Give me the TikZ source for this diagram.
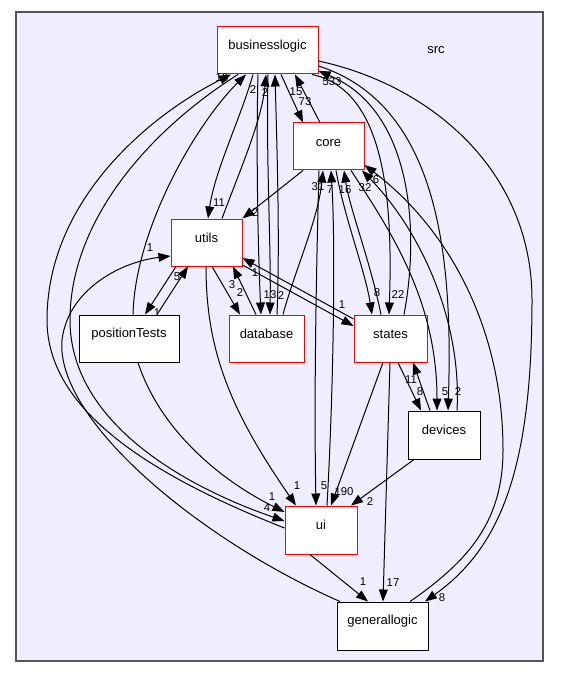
\documentclass[tikz,border=0pt]{standalone}
\usepackage{fontspec}
\setmainfont{Liberation Sans}
\usetikzlibrary{arrows.meta,calc,fit}
\definecolor{clbg}{HTML}{EEEEFF}
\definecolor{clframe}{HTML}{555555}
\begin{document}
\begin{tikzpicture}[x=0.75pt,y=-0.75pt,
  dep/.style={draw=black, line width=0.75pt, -{Triangle[length=9pt,width=6.6pt]}},
  redbox/.style={draw=red, fill=white, line width=0.75pt, inner sep=0pt, font=\fontsize{9.75}{11}\selectfont},
  blkbox/.style={draw=black, fill=white, line width=0.75pt, inner sep=0pt, font=\fontsize{9.75}{11}\selectfont},
  lbl/.style={font=\fontsize{8.5}{10}\selectfont, inner sep=0pt}]
\useasboundingbox (0,0) rectangle (560,677);
\fill[white] (0,0) rectangle (560,677);
\draw[clframe, fill=clbg, line width=1pt] (16,12) rectangle (543,661);
\node[font=\fontsize{9.75}{11}\selectfont, inner sep=0pt] (src) at (436,50) {src};
% nodes
\node[redbox, fit={(217,27) (318,74)}] (bl) {businesslogic};
\node[redbox, fit={(293,123) (364,170)}] (core) {core};
\node[redbox, fit={(171,219) (242,266)}] (utils) {utils};
\node[blkbox, fit={(79,315) (179,362)}] (pt) {positionTests};
\node[redbox, fit={(229,315) (304,362)}] (db) {database};
\node[redbox, fit={(354,315) (427,362)}] (st) {states};
\node[blkbox, fit={(408,411) (480,459)}] (dev) {devices};
\node[redbox, fit={(285,506) (357,554)}] (ui) {ui};
\node[blkbox, fit={(337,602) (428,650)}] (gl) {generallogic};
% edges
\draw[dep] (281,0 |- bl.south) -- (303,0 |- core.north);
\draw[dep] (320,0 |- core.north) -- (295,0 |- bl.south);
\draw[dep] (ui.west |- 0,528) .. controls (150,475) and (47,410) .. (47,320) .. controls (47,200) and (150,115) .. (231,0 |- bl.south);
\draw[dep] (238,0 |- bl.south) .. controls (150,130) and (70,220) .. (70,320) .. controls (70,420) and (180,485) .. (ui.west |- 0,521);
\draw[dep] (133,0 |- pt.north) .. controls (135,230) and (195,125) .. (246,0 |- bl.south);
\draw[dep] (253,0 |- bl.south) .. controls (240,120) and (215,170) .. (208,0 |- utils.north);
\draw[dep] (222,0 |- utils.north) .. controls (240,170) and (262,120) .. (266,0 |- bl.south);
\draw[dep] (258,0 |- bl.south) .. controls (256,150) and (258,250) .. (261,0 |- db.north);
\draw[dep] (277,0 |- db.north) .. controls (280,240) and (277,150) .. (275,0 |- bl.south);
\draw[dep] (268,0 |- bl.south) .. controls (266,160) and (271,240) .. (270,0 |- db.north);
\draw[dep] (312,0 |- bl.south) .. controls (385,90) and (393,200) .. (389,0 |- st.north);
\draw[dep] (404,0 |- st.north) .. controls (420,230) and (412,110) .. (bl.east |- 0,71);
\draw[dep] (bl.east |- 0,66) .. controls (440,105) and (453,260) .. (448,0 |- dev.north);
\draw[dep] (bl.east |- 0,61) .. controls (430,85) and (532,170) .. (532,300) .. controls (532,470) and (500,548) .. (425,0 |- gl.north);
\draw[dep] (303,0 |- core.south) -- (utils.north east);
\draw[dep] (283,0 |- db.north) .. controls (295,270) and (318,220) .. (323,0 |- core.south);
\draw[dep] (327,0 |- ui.north) .. controls (333,400) and (336,250) .. (331,0 |- core.south);
\draw[dep] (319,0 |- core.south) .. controls (316,280) and (314,400) .. (316,0 |- ui.north);
\draw[dep] (381,0 |- st.north) .. controls (370,260) and (350,210) .. (344,0 |- core.south);
\draw[dep] (336,0 |- core.south) .. controls (345,220) and (365,270) .. (372,0 |- st.north);
\draw[dep] (351,0 |- core.south) .. controls (390,230) and (437,300) .. (437,0 |- dev.north);
\draw[dep] (457,0 |- dev.north) .. controls (462,320) and (420,230) .. (362,0 |- core.south);
\draw[dep] (410,0 |- gl.north) .. controls (470,560) and (503,520) .. (503,450) .. controls (503,330) and (450,230) .. (core.east |- 0,165);
\draw[dep] (340,0 |- gl.north) .. controls (200,540) and (55,420) .. (62,340) .. controls (68,290) and (120,262) .. (utils.west |- 0,256);
\draw[dep] (157,0 |- pt.north) -- (188,0 |- utils.south);
\draw[dep] (176,0 |- utils.south) -- (145,0 |- pt.north);
\draw[dep] (st.west |- 0,319) -- (utils.east |- 0,258);
\draw[dep] (utils.east |- 0,265) -- (st.west |- 0,326);
\draw[dep] (256,0 |- db.north) -- (233,0 |- utils.south);
\draw[dep] (212,0 |- utils.south) -- (240,0 |- db.north);
\draw[dep] (206,0 |- utils.south) .. controls (206,350) and (230,410) .. (296,0 |- ui.north);
\draw[dep] (138,0 |- pt.south) .. controls (160,430) and (220,480) .. (ui.west |- 0,512);
\draw[dep] (383,0 |- st.south) -- (331,0 |- ui.north);
\draw[dep] (414,0 |- dev.south) -- (351,0 |- ui.north);
\draw[dep] (398,0 |- st.south) -- (421,0 |- dev.north);
\draw[dep] (430,0 |- dev.north) -- (413,0 |- st.south);
\draw[dep] (310,0 |- ui.south) -- (368,0 |- gl.north);
\draw[dep] (390,0 |- st.south) -- (383,0 |- gl.north);
% labels
\node[lbl] (l01) at (305,102) {73};
\node[lbl] (l02) at (296,92) {15};
\node[lbl] (l03) at (222,78) {10};
\node[lbl] (l04) at (267,508) {4};
\node[lbl] (l05) at (219,203) {11};
\node[lbl] (l06) at (253,90) {2};
\node[lbl] (l07) at (265,93) {2};
\node[lbl] (l08) at (270,295) {13};
\node[lbl] (l09) at (281,296) {2};
\node[lbl] (l10) at (398,295) {22};
\node[lbl] (l11) at (377,293) {8};
\node[lbl] (l12) at (332,82) {533};
\node[lbl] (l13) at (458,392) {2};
\node[lbl] (l14) at (445,392) {5};
\node[lbl] (l15) at (442,598) {8};
\node[lbl] (l16) at (255,213) {2};
\node[lbl] (l17) at (318,187) {31};
\node[lbl] (l18) at (330,190) {7};
\node[lbl] (l19) at (345,190) {16};
\node[lbl] (l20) at (365,188) {32};
\node[lbl] (l21) at (376,180) {6};
\node[lbl] (l22) at (150,248) {1};
\node[lbl] (l23) at (177,277) {5};
\node[lbl] (l24) at (157,313) {1};
\node[lbl] (l25) at (255,273) {1};
\node[lbl] (l26) at (342,305) {1};
\node[lbl] (l27) at (232,285) {3};
\node[lbl] (l28) at (240,293) {2};
\node[lbl] (l29) at (297,486) {1};
\node[lbl] (l30) at (324,486) {5};
\node[lbl] (l31) at (344,492) {190};
\node[lbl] (l32) at (370,502) {2};
\node[lbl] (l33) at (272,497) {1};
\node[lbl] (l34) at (420,392) {8};
\node[lbl] (l35) at (411,380) {11};
\node[lbl] (l36) at (363,582) {1};
\node[lbl] (l37) at (393,583) {17};
\end{tikzpicture}
\end{document}
